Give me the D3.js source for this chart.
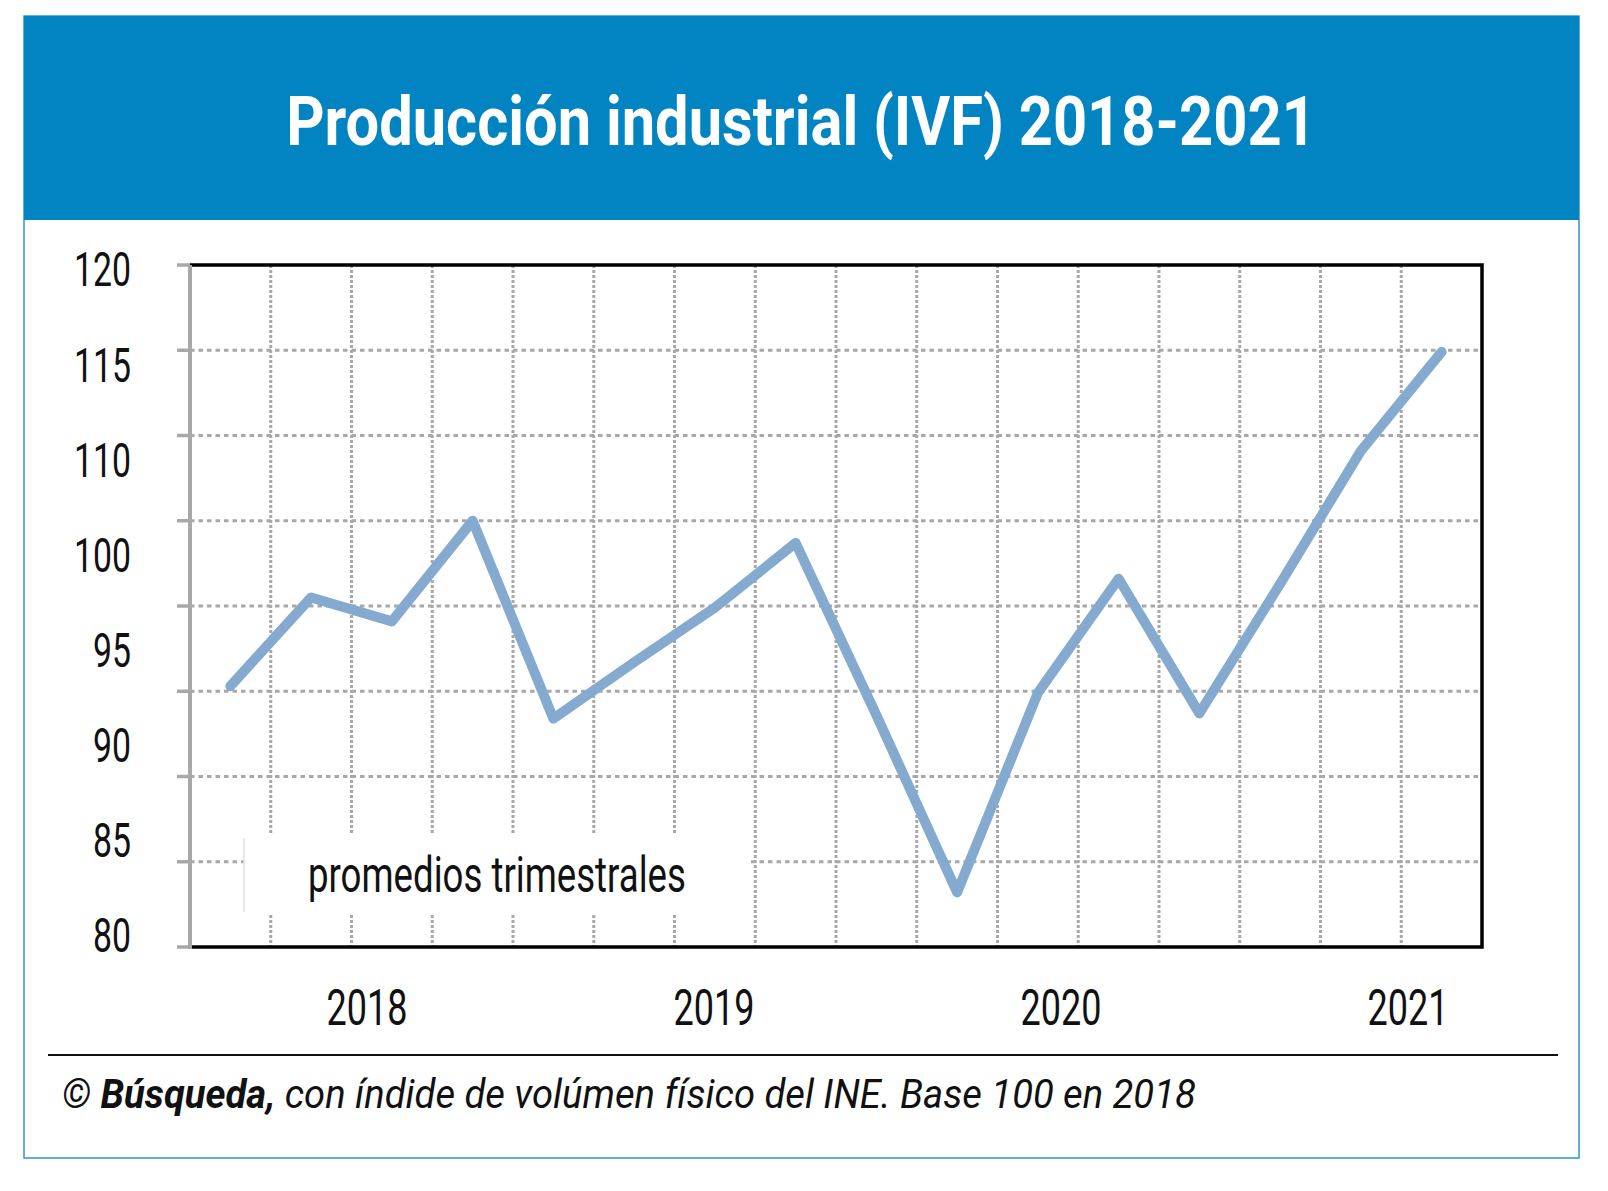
<!DOCTYPE html>
<html>
<head>
<meta charset="utf-8">
<script src="https://cdn.jsdelivr.net/npm/d3@7"></script>
<style>
  body { margin: 0; background: #fff; }
  svg { display: block; }
  text { font-family: Roboto, "Noto Sans", sans-serif; }
</style>
</head>
<body>
<script>
// Quarterly averages, IVF base 2018 = 100
const quarters = ["T1-18", "T2-18", "T3-18", "T4-18", "T1-19", "T2-19", "T3-19", "T4-19",
                  "T1-20", "T2-20", "T3-20", "T4-20", "T1-21", "T2-21", "T3-21", "T4-21"];
const ivf = [95.3, 100.5, 99.1, 105.0, 93.4, 96.7, 99.9, 103.7,
             93.6, 83.2, 94.9, 101.6, 93.7, 101.3, 109.1, 114.9];
const years = ["2018", "2019", "2020", "2021"];
const yTickLabels = ["120", "115", "110", "100", "95", "90", "85", "80"];
const gridValues = [80, 85, 90, 95, 100, 105, 110, 115, 120];

const width = 1608;
const height = 1191;
const plot = { left: 190, right: 1482, top: 265, bottom: 947 };

const svg = d3.select("body").append("svg")
  .attr("width", width)
  .attr("height", height);

// scales
const x = d3.scaleBand().domain(quarters).range([plot.left, plot.right]);
const y = d3.scaleLinear().domain([80, 120]).range([plot.bottom, plot.top]);
// the printed labels are spread evenly, not on the grid
const yLabel = d3.scalePoint().domain(yTickLabels).range([269, 935]);
const xYear = d3.scalePoint().domain(years).range([367, 1408]);

// squeeze text horizontally (no condensed font installed)
function squeeze(g, k) {
  g.attr("transform", g.attr("data-t") + ` scale(${k},1)`);
}
function fitText(g, target) {
  const len = g.select("text").node().getComputedTextLength();
  squeeze(g, target / len);
}
function placeText(x0, y0) {
  return svg.append("g").attr("data-t", `translate(${x0},${y0})`)
    .attr("transform", `translate(${x0},${y0})`);
}

// frame + header
svg.append("rect")
  .attr("x", 24).attr("y", 16).attr("width", 1555).attr("height", 1142)
  .attr("fill", "#fff").attr("stroke", "#2b95cf").attr("stroke-width", 1.5);
svg.append("rect")
  .attr("x", 24).attr("y", 16).attr("width", 1555).attr("height", 204)
  .attr("fill", "#0184c1");

const title = placeText(801, 145);
title.append("text")
  .attr("text-anchor", "middle")
  .attr("font-size", 68)
  .attr("font-weight", "bold")
  .attr("fill", "#fff")
  .text("Producción industrial (IVF) 2018-2021");
fitText(title, 1030);

// grid
svg.append("g")
  .selectAll("line")
  .data(gridValues.filter(v => v > 80 && v < 120))
  .join("line")
  .attr("x1", plot.left).attr("x2", plot.right)
  .attr("y1", d => y(d)).attr("y2", d => y(d))
  .attr("stroke", "#a8a8a8").attr("stroke-width", 3)
  .attr("stroke-dasharray", "4.5,4");

svg.append("g")
  .selectAll("line")
  .data(quarters.slice(1))
  .join("line")
  .attr("x1", d => x(d)).attr("x2", d => x(d))
  .attr("y1", plot.top).attr("y2", plot.bottom)
  .attr("stroke", "#a8a8a8").attr("stroke-width", 3)
  .attr("stroke-dasharray", "3,2");

// legend box over the grid
svg.append("rect")
  .attr("x", 244).attr("y", 833).attr("width", 504).attr("height", 82)
  .attr("fill", "#fff");
svg.append("line")
  .attr("x1", 244).attr("x2", 244).attr("y1", 838).attr("y2", 912)
  .attr("stroke", "#e2e2e2").attr("stroke-width", 1.5);
const legend = placeText(308, 892);
legend.append("text")
  .attr("font-size", 50)
  .attr("fill", "#111")
  .text("promedios trimestrales");
fitText(legend, 378);

// data line
const line = d3.line()
  .x((d, i) => x(quarters[i]) + x.bandwidth() / 2)
  .y(d => y(d));

svg.append("path")
  .datum(ivf)
  .attr("d", line)
  .attr("fill", "none")
  .attr("stroke", "#84aad0")
  .attr("stroke-width", 10)
  .attr("stroke-linejoin", "round")
  .attr("stroke-linecap", "round");

// plot frame: black top/right/bottom, grey left axis
svg.append("path")
  .attr("d", `M${plot.left},${plot.top}H${plot.right}V${plot.bottom}H${plot.left}`)
  .attr("fill", "none")
  .attr("stroke", "#000")
  .attr("stroke-width", 3.5);

svg.append("line")
  .attr("x1", plot.left).attr("x2", plot.left)
  .attr("y1", plot.top).attr("y2", plot.bottom + 2)
  .attr("stroke", "#a8a8a8").attr("stroke-width", 4);

svg.append("g")
  .selectAll("line")
  .data(gridValues)
  .join("line")
  .attr("x1", 177).attr("x2", plot.left)
  .attr("y1", d => y(d)).attr("y2", d => y(d))
  .attr("stroke", "#a8a8a8").attr("stroke-width", 3.5);

// y labels
yTickLabels.forEach(lab => {
  const g = placeText(131, yLabel(lab));
  g.append("text")
    .attr("text-anchor", "end")
    .attr("dy", "0.355em")
    .attr("font-size", 49)
    .attr("fill", "#111")
    .text(lab);
  squeeze(g, 0.69);
});

// year labels
years.forEach(yr => {
  const g = placeText(xYear(yr), 1025);
  g.append("text")
    .attr("text-anchor", "middle")
    .attr("font-size", 50)
    .attr("fill", "#111")
    .text(yr);
  squeeze(g, 0.72);
});

// footer
svg.append("line")
  .attr("x1", 48).attr("x2", 1558).attr("y1", 1055).attr("y2", 1055)
  .attr("stroke", "#111").attr("stroke-width", 2);

const foot = placeText(62, 1108);
const ft = foot.append("text")
  .attr("font-size", 41)
  .attr("font-style", "italic")
  .attr("fill", "#111");
ft.append("tspan").text("© ");
ft.append("tspan").attr("font-weight", "bold").text("Búsqueda,");
ft.append("tspan").text(" con índide de volúmen físico del INE. Base 100 en 2018");
fitText(foot, 1134);
</script>
</body>
</html>
